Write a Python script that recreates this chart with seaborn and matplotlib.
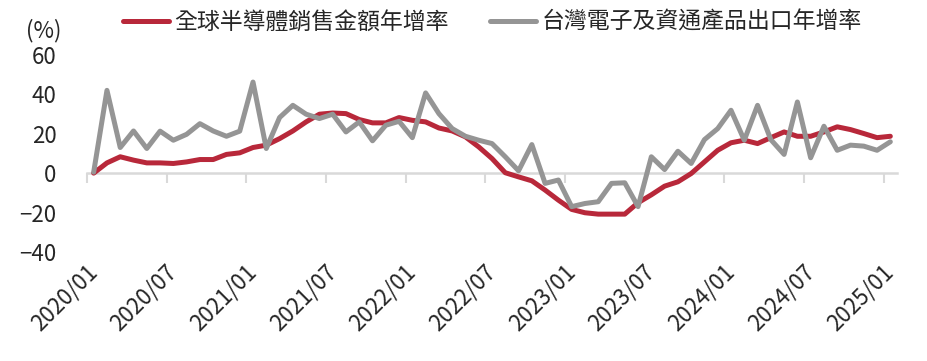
import matplotlib
matplotlib.use("Agg")
import matplotlib.pyplot as plt
import pandas as pd
import seaborn as sns

# monthly YoY growth (%), 2020/01 - 2025/01
semi_sales = [0, 5.2, 8.3, 6.6, 5.2, 5.2, 4.9, 5.7, 6.9, 6.9, 9.5, 10.3,
              13, 14.2, 17.5, 21.4, 26, 29.9, 30.5, 30.2, 27.2, 25.5, 25.5, 28.2,
              26.8, 26, 22.9, 21.4, 18.4, 13.3, 7.4, 0.2, -1.9, -3.9, -8.6, -13.7,
              -18.4, -20.1, -20.8, -20.8, -20.8, -15, -11, -6.6, -4.4, -0.2, 5.7, 11.6,
              15.4, 16.7, 15, 18, 20.9, 18.7, 18.7, 20.9, 23.5, 22.1, 20.1, 18,
              18.7]
tw_exports = [0.5, 42, 13, 21.4, 12.5, 21.3, 16.7, 19.7, 25.1, 21.4, 18.7, 21.3,
              46.2, 12.5, 28.2, 34.4, 29.9, 27.7, 29.9, 20.9, 26, 16.4, 24.3, 26.3,
              18, 40.7, 30.2, 22.6, 18.7, 16.7, 15, 8.3, 1.2, 14.5, -5.2, -3.5,
              -17, -15.4, -14.5, -5.2, -4.9, -17, 8.3, 1.8, 11.1, 4.9, 17, 22.6,
              31.9, 16.7, 34.4, 17, 9.5, 36.1, 7.8, 23.8, 11.6, 14.2, 13.7, 11.6,
              15.9]
tick_labels = ["2020/01", "2020/07", "2021/01", "2021/07", "2022/01", "2022/07",
               "2023/01", "2023/07", "2024/01", "2024/07", "2025/01"]
names = ["全球半導體銷售金額年增率", "台灣電子及資通產品出口年增率"]

df = pd.DataFrame({"idx": range(len(semi_sales)), "semi": semi_sales, "tw": tw_exports})

sns.set_style("white")
plt.rcParams["font.family"] = ["Noto Sans CJK TC", "DejaVu Sans"]

fig = plt.figure(figsize=(9.27, 3.61), dpi=100)
ax = fig.add_axes([0.0939, 0.302, 0.8737, 0.546])

sns.lineplot(data=df, x="idx", y="semi", color="#B8283A", lw=3.6, label=names[0], ax=ax)
sns.lineplot(data=df, x="idx", y="tw", color="#959595", lw=3.6, label=names[1], ax=ax)

# zero line carries the tick marks (set before tick labels: it resets ticks)
for s in ["left", "right", "bottom"]:
    ax.spines[s].set_visible(False)
ax.spines["top"].set_position(("data", 0))
ax.spines["top"].set_color("#d9d9d9")
ax.spines["top"].set_linewidth(1.8)
ax.spines["top"].set_zorder(0)

ax.set_xlim(-0.5, 60.5)
ax.set_ylim(-40, 60)
ax.set_yticks(range(-40, 61, 20))
ax.set_xlabel("")
ax.set_ylabel("")

ax.set_xticks([x - 0.5 for x in range(0, 61, 6)], minor=True)
ax.set_xticks(list(range(0, 61, 6)), labels=tick_labels)
ax.tick_params(axis="x", which="major", bottom=True, top=False, length=0, pad=12)
ax.tick_params(axis="x", which="minor", bottom=False, top=True, direction="in",
               length=7, width=1.5, color="#d9d9d9")
ax.tick_params(axis="y", length=0, pad=22, labelsize=16)
plt.setp(ax.get_xticklabels(), rotation=45, ha="right", va="center",
         rotation_mode="anchor", fontsize=16)

fig.text(0.028, 0.915, "(%)", fontsize=16, va="center")

ax.legend(loc="center", bbox_to_anchor=(0.531, 0.939), bbox_transform=fig.transFigure,
          ncol=2, frameon=False, fontsize=16.5, handlelength=2.0, handletextpad=0.25,
          columnspacing=1.8)

fig.savefig("out.png", dpi=100)
